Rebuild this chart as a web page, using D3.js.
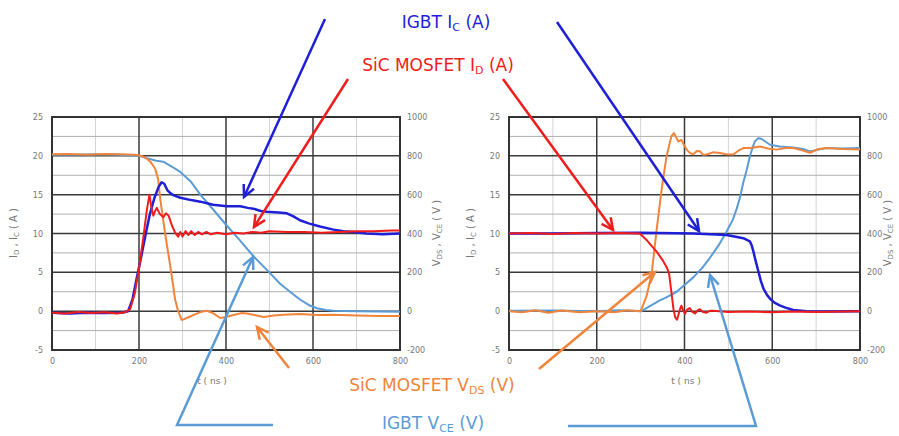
<!DOCTYPE html>
<html>
<head>
<meta charset="utf-8">
<script src="https://cdn.jsdelivr.net/npm/d3@7/dist/d3.min.js"></script>
<style>
body { margin: 0; background: #fff; }
svg text { font-family: "DejaVu Sans", Verdana, sans-serif; }
</style>
</head>
<body>
<script>
// tick values
var xTicks = [0, 200, 400, 600, 800];
var aTicks = [-5, 0, 5, 10, 15, 20, 25];
var vTicks = [-200, 0, 200, 400, 600, 800, 1000];
var gridMajorX = [200, 400, 600];
var gridMinorX = [100, 300, 500, 700];
var gridMajorY = [0, 5, 10, 15, 20];
var gridMinorY = [-2.5, 2.5, 7.5, 12.5, 17.5, 22.5];

// turn-on (left panel): [t ns, value]
var onSicId = [[0,-0.2],[30,-0.3],[60,-0.1],[90,-0.25],[120,-0.15],[150,-0.3],[170,-0.1],[180,0.3],[190,2.2],[200,5.5],[210,9.5],[218,13],[224,15],[229,13.2],[233,12.3],[237,12.9],[241,13.3],[248,12.5],[256,12.1],[262,12.6],[268,12.3],[276,11.0],[283,10.1],[290,9.6],[295,10.2],[300,9.6],[307,10.3],[313,9.8],[320,10.3],[328,9.8],[336,10.2],[345,9.9],[355,10.2],[365,9.9],[380,10.1],[400,9.9],[420,10.1],[440,10.0],[460,10.2],[480,10.1],[500,10.3],[540,10.2],[580,10.2],[620,10.1],[660,10.2],[700,10.3],[740,10.3],[780,10.4],[800,10.4]];
var onIgbtIc = [[0,-0.2],[40,-0.3],[80,-0.2],[120,-0.25],[160,-0.2],[175,0],[185,1.5],[195,4.3],[205,7],[215,9.8],[225,12.5],[235,14.5],[245,16],[252,16.6],[258,16.4],[265,15.6],[272,15.2],[280,14.9],[295,14.6],[320,14.3],[341,14.1],[370,13.7],[402,13.5],[433,13.5],[450,13.3],[463,13.2],[480,12.9],[494,12.8],[520,12.7],[540,12.6],[555,12.2],[570,11.7],[590,11.3],[616,10.9],[647,10.5],[670,10.3],[693,10.2],[723,10.0],[760,9.9],[800,10.0]];
var onIgbtVce = [[0,805],[50,805],[100,808],[150,805],[200,800],[218,788],[240,775],[256,770],[275,745],[295,717],[320,665],[341,600],[370,525],[400,445],[430,370],[463,283],[495,210],[525,140],[550,95],[570,60],[590,32],[609,15],[630,6],[647,2],[700,0],[750,-2],[800,-3]];
var onSicVds = [[0,808],[40,810],[80,805],[120,810],[160,808],[190,805],[205,800],[215,790],[226,770],[237,735],[244,680],[249,575],[255,480],[260,400],[266,315],[272,230],[278,140],[283,60],[290,0],[298,-45],[305,-40],[315,-30],[330,-15],[341,-5],[356,2],[370,-10],[387,-35],[400,-30],[417,-20],[435,-10],[448,-12],[465,-20],[486,-30],[510,-22],[532,-18],[570,-15],[610,-20],[647,-18],[700,-22],[750,-25],[800,-25]];

// turn-off (right panel)
var offSicId = [[0,10],[50,10.05],[100,9.95],[150,10.05],[200,10],[250,10.05],[298,10],[313,9.2],[325,8.4],[336,7.7],[351,6.5],[360,5.6],[365,4.8],[370,2.5],[375,0.2],[379,-0.8],[383,-1.1],[387,-0.3],[390,0.3],[393,0.7],[397,0.1],[401,-0.35],[406,0.2],[412,0.4],[418,-0.1],[424,-0.3],[430,0.1],[435,0.25],[442,-0.1],[450,-0.2],[458,0.05],[465,0.05],[500,-0.1],[550,-0.05],[600,-0.15],[650,-0.05],[700,-0.1],[800,0]];
var offIgbtIc = [[0,10],[100,10],[200,10.05],[300,10.1],[420,10.0],[496,9.8],[534,9.4],[549,9.0],[553,8.5],[557,7.7],[562,6.5],[568,5.2],[574,3.9],[580,2.9],[588,2.1],[595,1.6],[605,1.1],[617,0.75],[630,0.45],[648,0.15],[678,0],[720,-0.05],[800,0]];
var offIgbtVce = [[0,2],[100,4],[200,0],[250,5],[302,0],[320,25],[344,56],[362,75],[382,100],[400,135],[420,174],[440,222],[458,275],[478,340],[496,410],[510,470],[519,528],[527,590],[534,663],[542,730],[549,797],[555,840],[560,873],[568,891],[575,888],[580,880],[595,857],[617,848],[648,843],[670,835],[686,823],[705,832],[724,840],[760,838],[800,840]];
var offSicVds = [[0,0],[30,-5],[60,5],[90,-8],[120,3],[160,-5],[200,0],[240,-5],[270,5],[300,0],[313,73],[325,190],[336,410],[348,630],[359,797],[370,900],[376,917],[381,895],[386,874],[393,882],[398,860],[405,832],[412,815],[420,808],[428,825],[435,824],[442,806],[450,807],[465,818],[481,815],[495,808],[511,807],[522,825],[534,840],[550,840],[572,848],[590,838],[610,832],[630,840],[648,840],[668,828],[686,816],[705,835],[724,840],[760,835],[800,832]];

var colIc = "#1f1fd6", colId = "#f01c1c", colVds = "#f0843a", colVce = "#5b9bd5";

var svg = d3.select("body").append("svg")
	.attr("width", 899)
	.attr("height", 436);

function plain(d) { return String(d); }

function drawPanel(left, right, series, rightTitleX, xTitleX) {
	var top = 117, bottom = 350;
	var x = d3.scaleLinear().domain([0, 800]).range([left, right]);
	var yA = d3.scaleLinear().domain([-5, 25]).range([bottom, top]);
	var yV = d3.scaleLinear().domain([-200, 1000]).range([bottom, top]);
	var g = svg.append("g");

	g.selectAll(".vminor").data(gridMinorX).enter().append("line")
		.attr("x1", x).attr("x2", x).attr("y1", top).attr("y2", bottom)
		.attr("stroke", "#d4d4d4").attr("stroke-width", 1);
	g.selectAll(".hminor").data(gridMinorY).enter().append("line")
		.attr("x1", left).attr("x2", right).attr("y1", yA).attr("y2", yA)
		.attr("stroke", "#b0b0b0").attr("stroke-width", 1);
	g.selectAll(".vmajor").data(gridMajorX).enter().append("line")
		.attr("x1", x).attr("x2", x).attr("y1", top).attr("y2", bottom)
		.attr("stroke", "#3a3a3a").attr("stroke-width", 1.5);
	g.selectAll(".hmajor").data(gridMajorY).enter().append("line")
		.attr("x1", left).attr("x2", right).attr("y1", yA).attr("y2", yA)
		.attr("stroke", "#3a3a3a").attr("stroke-width", 1.5);
	g.append("rect")
		.attr("x", left).attr("y", top)
		.attr("width", right - left).attr("height", bottom - top)
		.attr("fill", "none").attr("stroke", "#333").attr("stroke-width", 2);

	// axes (labels only)
	function styleAxis(sel) {
		sel.select(".domain").remove();
		sel.selectAll("text").attr("fill", "#777").style("font-size", "8px");
	}
	g.append("g").attr("transform", "translate(" + left + ",0)")
		.call(d3.axisLeft(yA).tickValues(aTicks).tickSize(0).tickPadding(9).tickFormat(plain))
		.call(styleAxis);
	g.append("g").attr("transform", "translate(" + right + ",0)")
		.call(d3.axisRight(yV).tickValues(vTicks).tickSize(0).tickPadding(7).tickFormat(plain))
		.call(styleAxis);
	g.append("g").attr("transform", "translate(0," + bottom + ")")
		.call(d3.axisBottom(x).tickValues(xTicks).tickSize(0).tickPadding(8).tickFormat(plain))
		.call(styleAxis);

	// axis titles
	var lt = g.append("text")
		.attr("transform", "translate(" + (left - 35) + "," + 233 + ") rotate(-90)")
		.attr("text-anchor", "middle").attr("fill", "#777").style("font-size", "10px");
	lt.append("tspan").text("I");
	lt.append("tspan").attr("dy", 2).style("font-size", "7px").text("D");
	lt.append("tspan").attr("dy", -2).text(" , I");
	lt.append("tspan").attr("dy", 2).style("font-size", "7px").text("C");
	lt.append("tspan").attr("dy", -2).text(" ( A )");

	var rt = g.append("text")
		.attr("transform", "translate(" + rightTitleX + "," + 233 + ") rotate(-90)")
		.attr("text-anchor", "middle").attr("fill", "#777").style("font-size", "10px");
	rt.append("tspan").text("V");
	rt.append("tspan").attr("dy", 2).style("font-size", "7px").text("DS");
	rt.append("tspan").attr("dy", -2).text(" , V");
	rt.append("tspan").attr("dy", 2).style("font-size", "7px").text("CE");
	rt.append("tspan").attr("dy", -2).text(" ( V )");

	g.append("text")
		.attr("x", xTitleX).attr("y", 384)
		.attr("text-anchor", "middle").attr("fill", "#777").style("font-size", "9px")
		.text("t ( ns )");

	var lineA = d3.line().x(function(d) { return x(d[0]); }).y(function(d) { return yA(d[1]); });
	var lineV = d3.line().x(function(d) { return x(d[0]); }).y(function(d) { return yV(d[1]); });

	g.append("path").datum(series.vce)
		.attr("fill", "none").attr("stroke", colVce).attr("stroke-width", 2)
		.attr("stroke-linejoin", "round").attr("d", lineV);
	g.append("path").datum(series.vds)
		.attr("fill", "none").attr("stroke", colVds).attr("stroke-width", 2)
		.attr("stroke-linejoin", "round").attr("d", lineV);
	g.append("path").datum(series.ic)
		.attr("fill", "none").attr("stroke", colIc).attr("stroke-width", 2.5)
		.attr("stroke-linejoin", "round").attr("d", lineA);
	g.append("path").datum(series.id)
		.attr("fill", "none").attr("stroke", colId).attr("stroke-width", 2)
		.attr("stroke-linejoin", "round").attr("d", lineA);
}

drawPanel(52, 400, {id: onSicId, ic: onIgbtIc, vce: onIgbtVce, vds: onSicVds}, 440, 212);
drawPanel(509, 860, {id: offSicId, ic: offIgbtIc, vce: offIgbtVce, vds: offSicVds}, 891, 686);

// callout arrows: polyline points, last point is the arrow tip
var arrows = [
	{c: colIc, p: [[325, 19], [244, 197]]},
	{c: colIc, p: [[557, 22], [699, 231]]},
	{c: colId, p: [[348, 79], [254, 227]]},
	{c: colId, p: [[503, 79], [613, 230]]},
	{c: colVds, p: [[289, 368], [257, 327]]},
	{c: colVds, p: [[539, 369], [655, 272]]},
	{c: colVce, p: [[273, 425], [177, 425], [253, 257]]},
	{c: colVce, p: [[568, 426], [756, 426], [710, 275]]}
];

arrows.forEach(function(a) {
	svg.append("path").datum(a.p)
		.attr("fill", "none").attr("stroke", a.c).attr("stroke-width", 2.5)
		.attr("stroke-linejoin", "miter").attr("d", d3.line());
	var n = a.p.length, tip = a.p[n - 1], from = a.p[n - 2];
	var ang = Math.atan2(from[1] - tip[1], from[0] - tip[0]);
	var len = 13, spread = 0.45;
	var h = [
		[tip[0] + len * Math.cos(ang - spread), tip[1] + len * Math.sin(ang - spread)],
		tip,
		[tip[0] + len * Math.cos(ang + spread), tip[1] + len * Math.sin(ang + spread)]
	];
	svg.append("path").datum(h)
		.attr("fill", "none").attr("stroke", a.c).attr("stroke-width", 2.5)
		.attr("d", d3.line());
});

// callout labels
var labels = [
	{c: colIc, x: 446, y: 28, main: "IGBT  I", sub: "C", tail: " (A)"},
	{c: colId, x: 438, y: 71, main: "SiC MOSFET I", sub: "D", tail: " (A)"},
	{c: colVds, x: 432, y: 391, main: "SiC MOSFET V", sub: "DS", tail: " (V)"},
	{c: colVce, x: 433, y: 429, main: "IGBT V", sub: "CE", tail: " (V)"}
];

labels.forEach(function(l) {
	var t = svg.append("text")
		.attr("x", l.x).attr("y", l.y)
		.attr("text-anchor", "middle").attr("fill", l.c)
		.style("font-size", "17px");
	t.append("tspan").text(l.main);
	t.append("tspan").attr("dy", 3).style("font-size", "11px").text(l.sub);
	t.append("tspan").attr("dy", -3).text(l.tail);
});
</script>
</body>
</html>
